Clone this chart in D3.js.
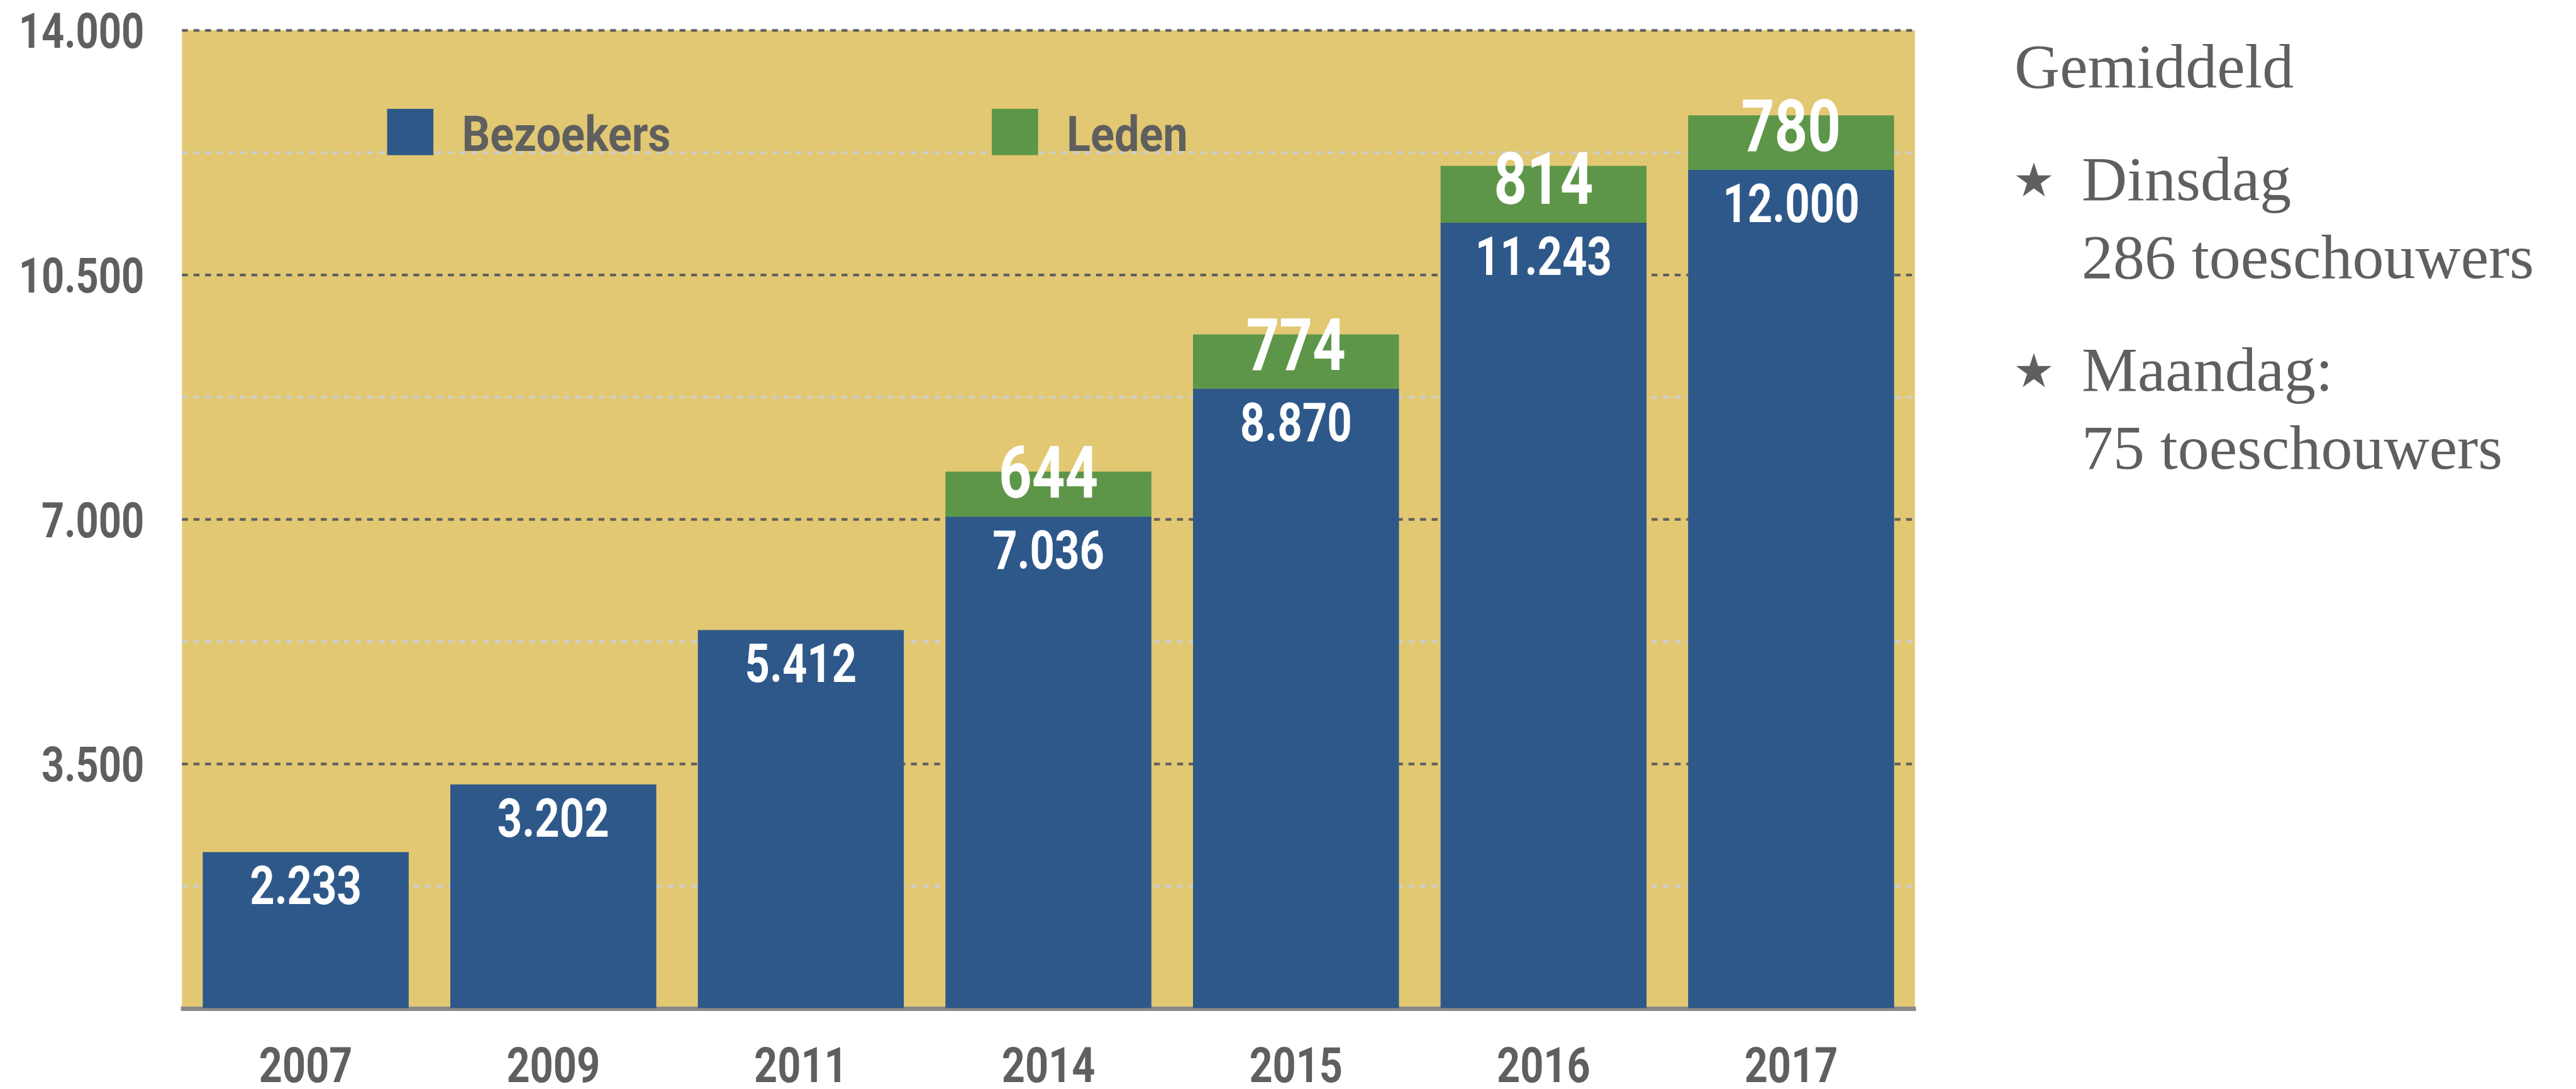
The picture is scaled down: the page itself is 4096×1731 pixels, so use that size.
<!DOCTYPE html>
<html>
<head>
<meta charset="utf-8">
<script src="https://d3js.org/d3.v7.min.js"></script>
<style>
  body { margin: 0; background: #fff; }
</style>
</head>
<body>
<div id="chart-area"></div>
<script>
// Data
var years = ["2007", "2009", "2011", "2014", "2015", "2016", "2017"];
var bezoekers = [2233, 3202, 5412, 7036, 8870, 11243, 12000];
var leden = [0, 0, 0, 644, 774, 814, 780];
var seriesNames = ["Bezoekers", "Leden"];
var yTicks = [3500, 7000, 10500, 14000];
var yMinorTicks = [1750, 5250, 8750, 12250];
var noteTitle = "Gemiddeld";
var noteItems = [["Dinsdag", "286 toeschouwers"], ["Maandag:", "75 toeschouwers"]];

var colors = { Bezoekers: "#2e5889", Leden: "#5d9648" };
var gray = "#5f5f5f";
var sans = "Roboto, 'Noto Sans', sans-serif";
var serif = "'Liberation Serif', 'DejaVu Serif', serif";

var width = 4096, height = 1731;
var plot = { left: 289.3, right: 3044.8, top: 47.9, bottom: 1602.4 };

var nl = d3.formatLocale({ decimal: ",", thousands: ".", grouping: [3], currency: ["€", ""] });
var fmt = nl.format(",d");

// squeeze text horizontally, no condensed font is installed
function condense(sel, f) {
    sel.each(function() {
        var w = this.getComputedTextLength();
        d3.select(this)
            .attr("textLength", w * f)
            .attr("lengthAdjust", "spacingAndGlyphs");
    });
}

var svg = d3.select("#chart-area")
    .append("svg")
        .attr("width", width)
        .attr("height", height);

// Scales
var x = d3.scaleBand()
    .domain(years)
    .range([plot.left, plot.right])
    .paddingInner(0.168)
    .paddingOuter(0.084);

var y = d3.scaleLinear()
    .domain([0, 14000])
    .range([plot.bottom, plot.top]);

// Stack the two series
var rows = years.map(function(yr, i) {
    return { year: yr, Bezoekers: bezoekers[i], Leden: leden[i] };
});
var stacked = d3.stack().keys(seriesNames)(rows);

// Background
svg.append("rect")
    .attr("x", plot.left)
    .attr("y", plot.top)
    .attr("width", plot.right - plot.left)
    .attr("height", plot.bottom - plot.top)
    .attr("fill", "#e2c873");

// Minor gridlines
var minorGrid = svg.append("g")
    .attr("transform", "translate(" + plot.left + ",0)")
    .call(d3.axisLeft(y).tickValues(yMinorTicks).tickSize(-(plot.right - plot.left)).tickFormat(""));
minorGrid.select(".domain").remove();
minorGrid.selectAll("line")
    .attr("stroke", "#cdcdcd")
    .attr("stroke-width", 4.3)
    .attr("stroke-dasharray", "9.4,9");

// Major gridlines
var majorGrid = svg.append("g")
    .attr("transform", "translate(" + plot.left + ",0)")
    .call(d3.axisLeft(y).tickValues(yTicks).tickSize(-(plot.right - plot.left)).tickFormat(""));
majorGrid.select(".domain").remove();
majorGrid.selectAll("line")
    .attr("stroke", gray)
    .attr("stroke-width", 4.3)
    .attr("stroke-dasharray", "9.4,9");

// Baseline
svg.append("line")
    .attr("x1", plot.left - 1.7)
    .attr("x2", plot.right + 1.8)
    .attr("y1", y(0) + 1.1)
    .attr("y2", y(0) + 1.1)
    .attr("stroke", "#888a89")
    .attr("stroke-width", 7);

// Bars
svg.selectAll("g.series")
    .data(stacked)
    .enter().append("g")
        .attr("class", "series")
        .attr("fill", function(s) { return colors[s.key]; })
    .selectAll("rect")
    .data(function(s) { return s.filter(function(d) { return d[1] > d[0]; }); })
    .enter().append("rect")
        .attr("x", function(d) { return x(d.data.year); })
        .attr("y", function(d) { return y(d[1]); })
        .attr("width", x.bandwidth())
        .attr("height", function(d) { return y(d[0]) - y(d[1]); });

// Bar labels - Bezoekers
svg.selectAll("text.lbl-b")
    .data(stacked[0])
    .enter().append("text")
        .attr("class", "lbl-b")
        .attr("x", function(d) { return x(d.data.year) + x.bandwidth() / 2; })
        .attr("y", function(d) { return y(d[1]) + 83; })
        .attr("text-anchor", "middle")
        .attr("font-family", sans)
        .attr("font-weight", "bold")
        .attr("font-size", "86px")
        .attr("fill", "#fff")
        .text(function(d) { return fmt(d.data.Bezoekers); })
        .call(condense, 0.8);

// Bar labels - Leden
svg.selectAll("text.lbl-l")
    .data(stacked[1].filter(function(d) { return d[1] > d[0]; }))
    .enter().append("text")
        .attr("class", "lbl-l")
        .attr("x", function(d) { return x(d.data.year) + x.bandwidth() / 2; })
        .attr("y", function(d) { return y(d[0]) - 30; })
        .attr("text-anchor", "middle")
        .attr("font-family", sans)
        .attr("font-weight", "bold")
        .attr("font-size", "115px")
        .attr("fill", "#fff")
        .text(function(d) { return fmt(d.data.Leden); })
        .call(condense, 0.8);

// Y Axis labels
var yAxisGroup = svg.append("g")
    .attr("transform", "translate(" + plot.left + ",0)")
    .call(d3.axisLeft(y).tickValues(yTicks).tickSize(0).tickPadding(60).tickFormat(fmt));
yAxisGroup.select(".domain").remove();
yAxisGroup.selectAll("text")
    .attr("dy", "0.36em")
    .attr("font-family", sans)
    .attr("font-weight", "bold")
    .attr("font-size", "78px")
    .attr("fill", gray)
    .call(condense, 0.81);

// X Axis labels
var xAxisGroup = svg.append("g")
    .attr("transform", "translate(0," + plot.bottom + ")")
    .call(d3.axisBottom(x).tickSize(0).tickPadding(62));
xAxisGroup.select(".domain").remove();
xAxisGroup.selectAll("text")
    .attr("font-family", sans)
    .attr("font-weight", "bold")
    .attr("font-size", "78px")
    .attr("fill", gray)
    .call(condense, 0.83);

// Legend
var legendX = [615.5, 1577];
var legend = svg.selectAll("g.legend")
    .data(seriesNames)
    .enter().append("g")
        .attr("class", "legend")
        .attr("transform", function(d, i) { return "translate(" + legendX[i] + ",173)"; });
legend.append("rect")
    .attr("width", 73.6)
    .attr("height", 73.6)
    .attr("fill", function(d) { return colors[d]; });
legend.append("text")
    .attr("x", 119)
    .attr("y", 66.7)
    .attr("font-family", sans)
    .attr("font-weight", "bold")
    .attr("font-size", "78px")
    .attr("fill", gray)
    .text(function(d) { return d; })
    .call(condense, 0.9);

// Side note
var note = svg.append("g")
    .attr("font-family", serif)
    .attr("font-size", "100px")
    .attr("fill", gray);
note.append("text")
    .attr("x", 3203)
    .attr("y", 139)
    .text(noteTitle);

var star = d3.symbol().type(d3.symbolStar).size(1000);
noteItems.forEach(function(item, i) {
    var top = 318 + i * 303;
    note.append("path")
        .attr("d", star)
        .attr("transform", "translate(3234," + (top - 30) + ")");
    item.forEach(function(line, j) {
        note.append("text")
            .attr("x", 3310)
            .attr("y", top + j * 124)
            .text(line);
    });
});
</script>
</body>
</html>
